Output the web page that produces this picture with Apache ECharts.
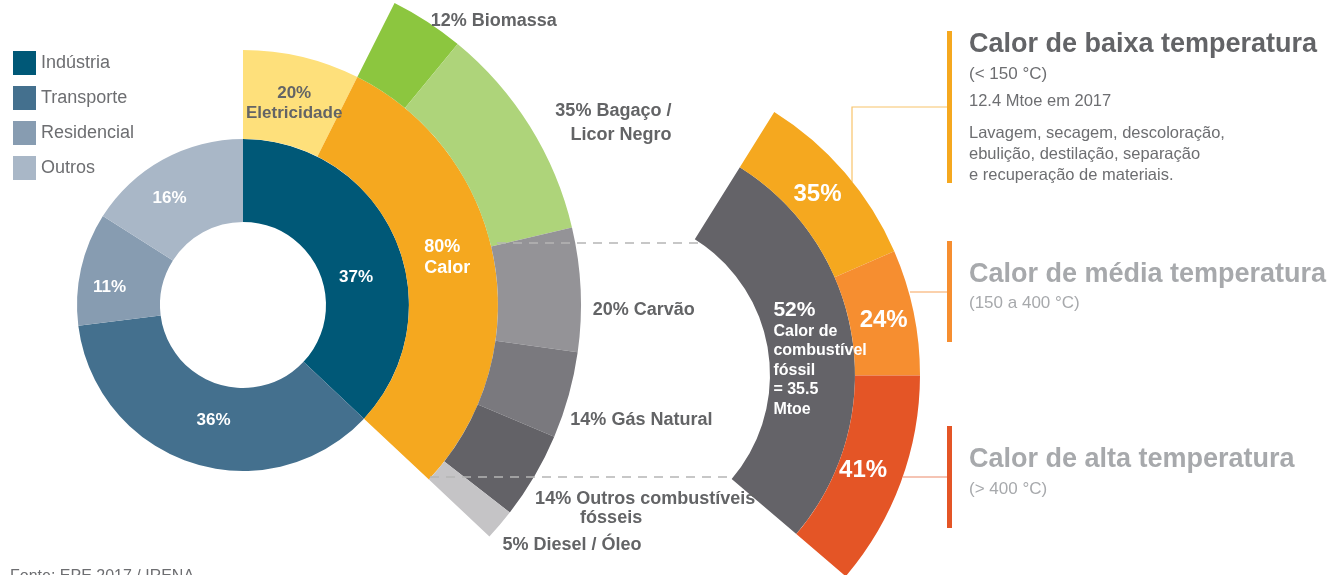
<!DOCTYPE html>
<html>
<head>
<meta charset="utf-8">
<title>Calor na indústria</title>
<script src="https://cdn.jsdelivr.net/npm/echarts@6/dist/echarts.min.js"></script>
<style>
  html, body { margin: 0; padding: 0; background: #fff; }
  #chart { width: 1334px; height: 575px; }
</style>
</head>
<body>
<div id="chart"></div>
<script>
// consumo de energia por setor
const sectorNames = ['Indústria', 'Transporte', 'Residencial', 'Outros']
const sectorValues = [37, 36, 11, 16]
// uso da energia na indústria
const useNames = ['Eletricidade', 'Calor']
const useValues = [20, 80]
// fontes do calor industrial
const fuelNames = ['Biomassa', 'Bagaço /\nLicor Negro', 'Carvão', 'Gás Natural', 'Outros combustíveis\nfósseis', 'Diesel / Óleo']
const fuelValues = [12, 35, 20, 14, 14, 5]
// calor de combustível fóssil
const fossilName = 'Calor de\ncombustível\nfóssil'
const fossilShare = 52
const fossilMtoe = 35.5
// faixas de temperatura
const tempNames = ['Calor de baixa temperatura', 'Calor de média temperatura', 'Calor de alta temperatura']
const tempRanges = ['(< 150 °C)', '(150 a 400 °C)', '(> 400 °C)']
const tempValues = [35, 24, 41]
const lowTempNotes = ['12.4 Mtoe em 2017', 'Lavagem, secagem, descoloração,\nebulição, destilação, separação\ne recuperação de materiais.']
const source = 'Fonte: EPE 2017 / IRENA'

const FONT = '"Liberation Sans", Arial, Helvetica, sans-serif'
const DARK = '#636466'
const sectorColors = ['#005877', '#44708e', '#879cb1', '#a9b7c7']
const useColors = ['#fee07b', '#f5a81f']
const fuelColors = ['#8cc63f', '#aed47a', '#949397', '#7a797e', '#636267', '#c5c4c6']
const tempColors = ['#f5a81f', '#f68e30', '#e45526']

const sum = arr => arr.reduce((s, v) => s + v, 0)
const industryAngle = 360 * sectorValues[0] / sum(sectorValues)
const industryEnd = 90 - industryAngle
const heatStart = 90 - industryAngle * useValues[0] / sum(useValues)

// small label nudges, relative to where the pie puts them
const shift = offsets => p => ({
  x: p.labelRect.x + offsets[p.dataIndex][0],
  y: p.labelRect.y + offsets[p.dataIndex][1],
  align: 'left',
  verticalAlign: 'top'
})

const items = (names, values, colors) => names.map((n, i) => ({
  name: n,
  value: values[i],
  itemStyle: { color: colors[i] }
}))

const fuelAlign = ['l', 'r', 'l', 'l', 'l', 'l']
const fuelStyle = { color: DARK, fontSize: 18, fontWeight: 'bold', lineHeight: 19, fontFamily: FONT }

const txt = (x, y, text, size, weight, color, extra) => ({
  type: 'text',
  x: x,
  y: y,
  silent: true,
  style: Object.assign({
    text: text,
    fill: color,
    fontSize: size,
    fontWeight: weight,
    fontFamily: FONT,
    verticalAlign: 'middle'
  }, extra || {})
})

const dashed = pts => ({
  type: 'polyline',
  silent: true,
  z: 100,
  shape: { points: pts },
  style: { stroke: '#b5b5b5', lineWidth: 1.5, lineDash: [9, 7], fill: null }
})

const chart = echarts.init(document.getElementById('chart'))
chart.setOption({
  animation: false,
  textStyle: { fontFamily: FONT },
  legend: {
    data: sectorNames,
    orient: 'vertical',
    left: 13,
    top: 51,
    padding: 0,
    icon: 'rect',
    itemWidth: 23,
    itemHeight: 24,
    itemGap: 11,
    selectedMode: false,
    textStyle: { color: '#6d6e71', fontSize: 18, fontFamily: FONT }
  },
  series: [
    {
      name: 'Setores',
      type: 'pie',
      center: [243, 305],
      radius: [83, 166],
      startAngle: 90,
      silent: true,
      avoidLabelOverlap: false,
      itemStyle: { borderWidth: 0 },
      label: { position: 'inside', formatter: '{c}%', color: '#fff', fontSize: 17, fontWeight: 'bold' },
      labelLine: { show: false },
      labelLayout: shift([[-4, 23], [10, -6], [-9, 10], [-12, 5]]),
      data: items(sectorNames, sectorValues, sectorColors)
    },
    {
      name: 'Uso',
      type: 'pie',
      center: [243, 305],
      radius: [166, 255],
      startAngle: 90,
      endAngle: industryEnd,
      silent: true,
      avoidLabelOverlap: false,
      itemStyle: { borderWidth: 0 },
      label: {
        position: 'inside',
        formatter: p => p.dataIndex === 0
          ? `{d|${p.value}%}\n{d|${p.name}}`
          : `{w|${p.value}%}\n{w|${p.name}}`,
        rich: {
          d: { color: DARK, fontSize: 17, fontWeight: 'bold', lineHeight: 20, align: 'center', fontFamily: FONT },
          w: { color: '#fff', fontSize: 18, fontWeight: 'bold', lineHeight: 21, align: 'left', fontFamily: FONT }
        }
      },
      labelLine: { show: false },
      labelLayout: shift([[2, 5], [-6, -12]]),
      data: items(useNames, useValues, useColors)
    },
    {
      name: 'Fontes de calor',
      type: 'pie',
      center: [243, 305],
      radius: [255, 338],
      startAngle: heatStart,
      endAngle: industryEnd,
      silent: true,
      avoidLabelOverlap: false,
      itemStyle: { borderWidth: 0 },
      label: {
        position: 'outside',
        formatter: p => p.name.split('\n')
          .map((s, i) => `{${i === 0 ? fuelAlign[p.dataIndex] : (p.dataIndex === 4 ? 'i' : fuelAlign[p.dataIndex])}|${i === 0 ? p.value + '% ' : ''}${s}}`)
          .join('\n'),
        rich: {
          l: Object.assign({ align: 'left' }, fuelStyle),
          r: Object.assign({ align: 'right' }, fuelStyle, { lineHeight: 24 }),
          i: Object.assign({ align: 'left', padding: [0, 0, 0, 45] }, fuelStyle)
        }
      },
      labelLine: { show: false, length: 10, length2: 0 },
      labelLayout: shift([[-7, 7], [12, -1], [-3, 20], [-13, 22], [-13, 27], [-10, 13]]),
      data: items(fuelNames, fuelValues, fuelColors)
    },
    {
      name: 'Calor fóssil',
      type: 'pie',
      center: [610, 375],
      radius: [160, 245],
      startAngle: 58,
      endAngle: -40.5,
      silent: true,
      avoidLabelOverlap: false,
      itemStyle: { borderWidth: 0 },
      label: {
        position: 'inside',
        formatter: p => [`{a|${p.value}%}`]
          .concat(p.name.split('\n').map(s => `{b|${s}}`))
          .concat([`{b|= ${fossilMtoe}}`, '{b|Mtoe}'])
          .join('\n'),
        rich: {
          a: { color: '#fff', fontSize: 21, fontWeight: 'bold', lineHeight: 23, align: 'left', fontFamily: FONT },
          b: { color: '#fff', fontSize: 16, fontWeight: 'bold', lineHeight: 19.5, align: 'left', fontFamily: FONT }
        }
      },
      labelLine: { show: false },
      labelLayout: shift([[7, 14]]),
      data: [{ name: fossilName, value: fossilShare, itemStyle: { color: '#646368' } }]
    },
    {
      name: 'Temperatura',
      type: 'pie',
      center: [610, 375],
      radius: [245, 310],
      startAngle: 58,
      endAngle: -40.5,
      silent: true,
      avoidLabelOverlap: false,
      itemStyle: { borderWidth: 0 },
      label: { position: 'inside', formatter: '{c}%', color: '#fff', fontSize: 24, fontWeight: 'bold' },
      labelLine: { show: false },
      labelLayout: shift([[-5, 3], [-1, 2], [-10, -2]]),
      data: items(tempNames, tempValues, tempColors)
    }
  ],
  graphic: [
    // ligações entre os dois gráficos
    dashed([[497, 243], [698, 243]]),
    dashed([[430, 477], [733, 477]]),
    // barras e conectores das faixas de temperatura
    { type: 'rect', silent: true, shape: { x: 947, y: 31, width: 5, height: 152 }, style: { fill: tempColors[0] } },
    { type: 'rect', silent: true, shape: { x: 947, y: 241, width: 5, height: 101 }, style: { fill: tempColors[1] } },
    { type: 'rect', silent: true, shape: { x: 947, y: 426, width: 5, height: 102 }, style: { fill: tempColors[2] } },
    { type: 'polyline', silent: true, shape: { points: [[852, 182], [852, 107], [947, 107]] }, style: { stroke: '#f8c46a', lineWidth: 1.2, fill: null } },
    { type: 'polyline', silent: true, shape: { points: [[910, 292], [947, 292]] }, style: { stroke: '#f7a35a', lineWidth: 1.2 } },
    { type: 'polyline', silent: true, shape: { points: [[903, 477], [947, 477]] }, style: { stroke: '#ec8a6a', lineWidth: 1.2 } },
    // textos das faixas
    txt(969, 45, tempNames[0], 27, 'bold', '#636467'),
    txt(969, 74, tempRanges[0], 17, 'normal', '#6d6e71'),
    txt(969, 101, lowTempNotes[0], 16.5, 'normal', '#6d6e71'),
    txt(969, 122.5, lowTempNotes[1], 16.5, 'normal', '#6d6e71', { verticalAlign: 'top', lineHeight: 21 }),
    txt(969, 275, tempNames[1], 27, 'bold', '#a7a9ac'),
    txt(969, 303, tempRanges[1], 17, 'normal', '#a7a9ac'),
    txt(969, 460, tempNames[2], 27, 'bold', '#a7a9ac'),
    txt(969, 489, tempRanges[2], 17, 'normal', '#a7a9ac'),
    txt(10, 569, source, 16, 'normal', '#6d6e71', { verticalAlign: 'top' })
  ]
})
</script>
</body>
</html>
